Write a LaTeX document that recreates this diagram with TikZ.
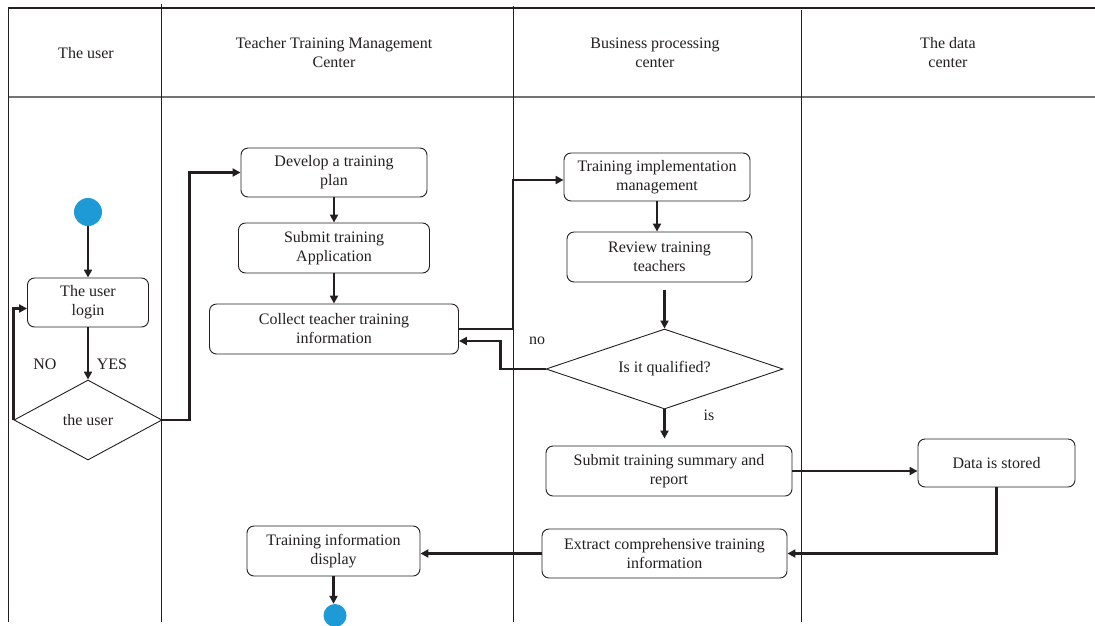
\documentclass[tikz,border=0pt]{standalone}
\usepackage{fontspec}
\setmainfont{Liberation Serif}
\usetikzlibrary{shapes.geometric,arrows.meta}
\definecolor{dotblue}{HTML}{1E9BD7}
\definecolor{ink}{HTML}{231F20}
\begin{document}
\begin{tikzpicture}[x=1pt,y=-1pt,
  txt/.style={font=\fontsize{16}{19}\selectfont, text=ink},
  box/.style={txt, draw=ink, line width=0.9pt, rounded corners=7pt, align=center, inner sep=0pt},
  dia/.style={txt, draw=ink, line width=0.9pt, shape=diamond, inner sep=0pt, align=center},
  flow/.style={line width=2.6pt, draw=ink, -{Triangle[length=8pt,width=8pt]}},
  lane/.style={line width=0.8pt, draw=ink},
  hdr/.style={txt, align=center},
  dot/.style={circle, fill=dotblue, inner sep=0pt}
]
\useasboundingbox (0,0) rectangle (1095,625);
% swimlane frame
\draw[line width=1.6pt, draw=ink] (8,8) -- (1095,8);
\draw[line width=2.6pt, draw=black!55] (8,97) -- (1095,97);
\draw[lane] (8,8) -- (8,622);
\draw[lane] (161,4) -- (161,622);
\draw[lane] (513,6) -- (513,622);
\draw[lane] (801,10) -- (801,622);
% headers
\node[hdr] (h1) at (86,53) {The user};
\node[hdr] (h2) at (334,53) {Teacher Training Management\\Center};
\node[hdr] (h3) at (655,53) {Business processing\\center};
\node[hdr] (h4) at (948,53) {The data\\center};
% nodes
\node[dot, minimum size=28pt] (start) at (88,212) {};
\node[box, minimum width=121pt, minimum height=49pt] (login) at (88,302.5) {The user\\login};
\node[dia, aspect=1.85, minimum width=148pt, minimum height=80pt] (u) at (88,420) {the user};
\node[box, minimum width=186pt, minimum height=49pt] (develop) at (334,172.5) {Develop a training\\plan};
\node[box, minimum width=191pt, minimum height=50pt] (submit) at (334,248) {Submit training\\Application};
\node[box, minimum width=249pt, minimum height=50pt] (collect) at (334,329) {Collect teacher training\\information};
\node[box, minimum width=186pt, minimum height=48pt] (impl) at (657,177) {Training implementation\\management};
\node[box, minimum width=185pt, minimum height=50pt] (review) at (659.5,257) {Review training\\teachers};
\node[dia, aspect=2.96, minimum width=237pt, minimum height=80pt] (q) at (664.5,369) {Is it qualified?};
\node[box, minimum width=246pt, minimum height=50pt] (summary) at (669,471) {Submit training summary and\\report};
\node[box, minimum width=157pt, minimum height=48pt] (data) at (996.5,463) {Data is stored};
\node[box, minimum width=245pt, minimum height=49pt] (extract) at (664.5,553.5) {Extract comprehensive training\\information};
\node[box, minimum width=173pt, minimum height=50pt] (display) at (333.5,551) {Training information\\display};
\node[dot, minimum size=23pt] (end) at (335,615.5) {};
% labels
\node[txt] (lno) at (45,364) {NO};
\node[txt] (lyes) at (112,364) {YES};
\node[txt] (lno2) at (537,341) {no};
\node[txt] (lis) at (709,415) {is};
% connectors
\draw[flow] (start) -- (login);
\draw[flow] (login) -- (u);
\draw[flow] (u.west) |- ([yshift=-6pt]login.west);
\draw[flow] (u.east) -- ++(27,0) |- (develop.west);
\draw[flow] (develop.south) -- (develop.south |- submit.north);
\draw[flow] (submit.south) -- (submit.south |- collect.north);
\draw[flow] (collect.east) -- ++(54,0) |- ([yshift=-3pt]impl.west);
\draw[flow] (impl.south) -- (impl.south |- review.north);
\draw[flow, shorten <=8pt] (review.south -| q.north) -- (q.north);
\draw[flow] (q.west) -- ++(-45,0) |- ([yshift=-12pt]collect.east);
\draw[flow, shorten >=7pt] (q.south) -- (q.south |- summary.north);
\draw[flow] (summary.east) -- (summary.east -| data.west);
\draw[flow] (data.south) |- (extract.east);
\draw[flow] (extract.west) -- (extract.west -| display.east);
\draw[flow] (display.south) -- (display.south |- end.north);
\end{tikzpicture}
\end{document}
